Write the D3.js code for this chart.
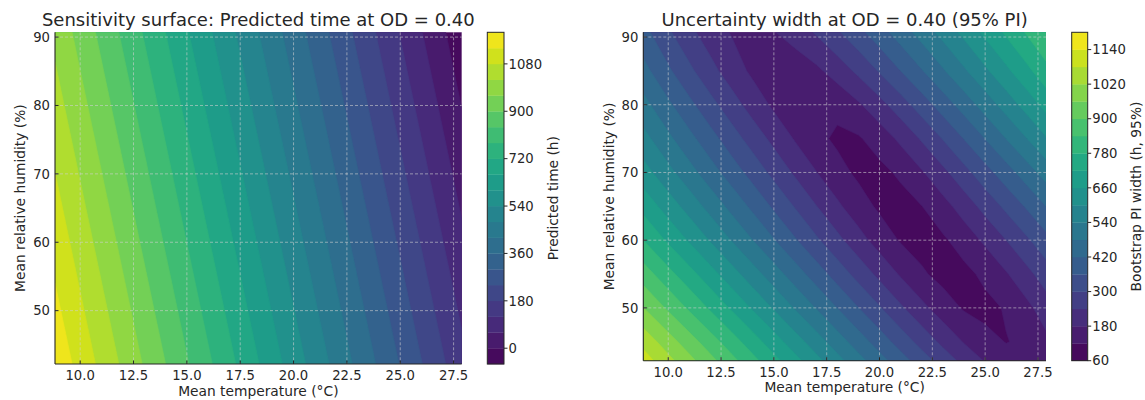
<!DOCTYPE html>
<html><head><meta charset="utf-8">
<script src="https://cdn.jsdelivr.net/npm/d3@7"></script>
<style>
body{margin:0;background:#fff;}
svg text{font-family:"DejaVu Sans",sans-serif;fill:#262626;}
</style></head><body>
<svg id="chart" width="1145" height="400"></svg>
<script>
// ---------- data ----------
const predTemp = [8.82, 13.6, 18.35, 23.1, 27.88];
const predHum = [42.2, 66.45, 90.7];
const predictedTime = [
  [1184, 922, 662, 401, 139],
  [1094, 832, 572, 311, 49],
  [1004, 742, 481, 221, -41]
];
const widthTemp = [8.82,10,11,12,13,14,15,16,17,18,19,20,21,22,23,24,25,26,27,27.88];
const widthHum = [42.2,45,50,55,60,65,70,75,80,85,90.7];
const piWidth = [
  [1110,1038,978,918,858,798,738,679,619,560,501,443,386,329,274,222,176,142,128,140],
  [1060,987,927,867,807,747,687,627,568,509,450,392,334,278,225,176,137,118,131,165],
  [961,890,830,771,712,653,594,535,477,419,361,305,249,196,149,114,104,125,166,210],
  [870,799,741,682,624,565,507,449,391,334,278,224,173,128,101,104,133,175,224,270],
  [780,710,653,595,537,480,423,366,310,256,203,154,115,97,111,146,191,240,292,340],
  [700,632,575,518,462,406,350,296,242,191,145,110,98,119,158,207,260,314,369,420],
  [625,558,502,446,391,337,283,231,182,139,109,104,130,174,225,280,337,394,453,505],
  [560,493,437,382,327,274,223,175,135,110,114,146,193,247,303,362,421,481,541,595],
  [500,431,375,319,266,214,169,134,120,135,172,220,273,330,388,446,506,566,626,680],
  [440,370,313,259,210,168,143,143,167,206,253,305,360,416,473,531,589,647,706,760],
  [380,309,255,209,176,165,177,206,246,292,342,395,449,504,560,616,673,730,788,840]
];
const predLevels = [-60,0,60,120,180,240,300,360,420,480,540,600,660,720,780,840,900,960,1020,1080,1140,1200];
const widthLevels = [60,120,180,240,300,360,420,480,540,600,660,720,780,840,900,960,1020,1080,1140,1200];
const xTicks = [10,12.5,15,17.5,20,22.5,25,27.5];
const yTicks = [50,60,70,80,90];
const predTicks = [0,180,360,540,720,900,1080];
const widthTicks = [60,180,300,420,540,660,780,900,1020,1140];
const xDomain = [8.82, 27.88];
const yDomain = [42.2, 90.7];

const svg = d3.select("#chart");
const INK = "#262626";

function panel(o) {
  const g = svg.append("g");
  const x = d3.scaleLinear().domain(xDomain).range([o.left, o.right]);
  const y = d3.scaleLinear().domain(yDomain).range([o.bottom, o.top]);
  const nx = o.tNodes.length, ny = o.hNodes.length;
  const ix = d3.scaleLinear().domain(o.tNodes.map((_, i) => i + 0.5)).range(o.tNodes).clamp(true);
  const iy = d3.scaleLinear().domain(o.hNodes.map((_, i) => i + 0.5)).range(o.hNodes).clamp(true);
  const N = o.levels.length - 1;
  const color = k => d3.interpolateViridis((k + 0.5) / N);
  const proj = d3.geoTransform({point(px, py) { this.stream.point(x(ix(px)), y(iy(py))); }});
  const path = d3.geoPath(proj);
  const cs = d3.contours().size([nx, ny]).thresholds(o.levels.slice(0, N))(o.values.flat());

  g.append("clipPath").attr("id", o.id).append("rect")
    .attr("x", o.left).attr("y", o.top).attr("width", o.right - o.left).attr("height", o.bottom - o.top);
  const cg = g.append("g").attr("clip-path", `url(#${o.id})`);
  cg.selectAll("path").data(cs).join("path")
    .attr("d", path)
    .attr("fill", (d, i) => color(i))
    .attr("stroke", (d, i) => color(i))
    .attr("stroke-width", 0.6);

  // grid
  const grid = g.append("g").attr("stroke", "#d0d0d0").attr("stroke-opacity", 0.75)
    .attr("stroke-width", 0.8).attr("stroke-dasharray", "3,2");
  xTicks.forEach(t => grid.append("line").attr("x1", x(t)).attr("x2", x(t)).attr("y1", o.top).attr("y2", o.bottom));
  yTicks.forEach(t => grid.append("line").attr("y1", y(t)).attr("y2", y(t)).attr("x1", o.left).attr("x2", o.right));

  // spines
  g.append("line").attr("x1", o.left).attr("x2", o.left).attr("y1", o.top).attr("y2", o.bottom).attr("stroke", INK).attr("stroke-width", 1.1);
  g.append("line").attr("x1", o.left).attr("x2", o.right).attr("y1", o.bottom).attr("y2", o.bottom).attr("stroke", INK).attr("stroke-width", 1.1);

  // ticks (inward)
  xTicks.forEach(t => {
    g.append("line").attr("x1", x(t)).attr("x2", x(t)).attr("y1", o.bottom).attr("y2", o.bottom - 3.5).attr("stroke", INK);
    g.append("text").attr("x", x(t)).attr("y", o.bottom + 16.3).attr("text-anchor", "middle")
      .attr("font-size", 13.2).text(d3.format(".1f")(t));
  });
  yTicks.forEach(t => {
    g.append("line").attr("x1", o.left).attr("x2", o.left + 3.5).attr("y1", y(t)).attr("y2", y(t)).attr("stroke", INK);
    g.append("text").attr("x", o.left - 5).attr("y", y(t)).attr("dy", "0.36em").attr("text-anchor", "end")
      .attr("font-size", 13.2).text(t);
  });

  // labels
  g.append("text").attr("x", (o.left + o.right) / 2).attr("y", o.bottom + 31.5).attr("text-anchor", "middle")
    .attr("font-size", 13.8).text("Mean temperature (°C)");
  g.append("text").attr("transform", `translate(${o.ylabX},${(o.top + o.bottom) / 2}) rotate(-90)`)
    .attr("text-anchor", "middle").attr("font-size", 13.8).text("Mean relative humidity (%)");
  g.append("text").attr("x", (o.left + o.right) / 2).attr("y", 26).attr("text-anchor", "middle")
    .attr("font-size", 18).text(o.title);

  // colorbar
  const cy = d3.scaleLinear().domain([o.levels[0], o.levels[N]]).range([o.bottom, o.top]);
  const cb = g.append("g");
  cb.selectAll("rect.band").data(d3.range(N)).join("rect").attr("class", "band")
    .attr("x", o.cbLeft).attr("width", o.cbRight - o.cbLeft)
    .attr("y", k => cy(o.levels[k + 1])).attr("height", k => cy(o.levels[k]) - cy(o.levels[k + 1]) + 0.3)
    .attr("fill", k => color(k));
  cb.append("rect").attr("x", o.cbLeft).attr("y", o.top).attr("width", o.cbRight - o.cbLeft)
    .attr("height", o.bottom - o.top).attr("fill", "none").attr("stroke", INK).attr("stroke-width", 1);
  o.cbTicks.forEach(t => {
    cb.append("line").attr("x1", o.cbRight).attr("x2", o.cbRight + 3.5).attr("y1", cy(t)).attr("y2", cy(t)).attr("stroke", INK);
    cb.append("text").attr("x", o.cbRight + 4.6).attr("y", cy(t)).attr("dy", "0.36em")
      .attr("font-size", 13.2).text(t);
  });
  cb.append("text").attr("transform", `translate(${o.cbLabX},${(o.top + o.bottom) / 2}) rotate(-90)`)
    .attr("text-anchor", "middle").attr("font-size", 13.8).text(o.cbLabel);
}

panel({
  id: "clipA", left: 55, right: 461.7, top: 32.3, bottom: 364,
  tNodes: predTemp, hNodes: predHum, values: predictedTime, levels: predLevels,
  title: "Sensitivity surface: Predicted time at OD = 0.40",
  ylabX: 24.5, cbLeft: 487.3, cbRight: 504, cbTicks: predTicks, cbLabX: 557.5,
  cbLabel: "Predicted time (h)"
});
panel({
  id: "clipB", left: 643.3, right: 1046, top: 32.3, bottom: 360.7,
  tNodes: widthTemp, hNodes: widthHum, values: piWidth, levels: widthLevels,
  title: "Uncertainty width at OD = 0.40 (95% PI)",
  ylabX: 613.5, cbLeft: 1071.7, cbRight: 1087.7, cbTicks: widthTicks, cbLabX: 1141,
  cbLabel: "Bootstrap PI width (h, 95%)"
});
</script>
</body></html>
